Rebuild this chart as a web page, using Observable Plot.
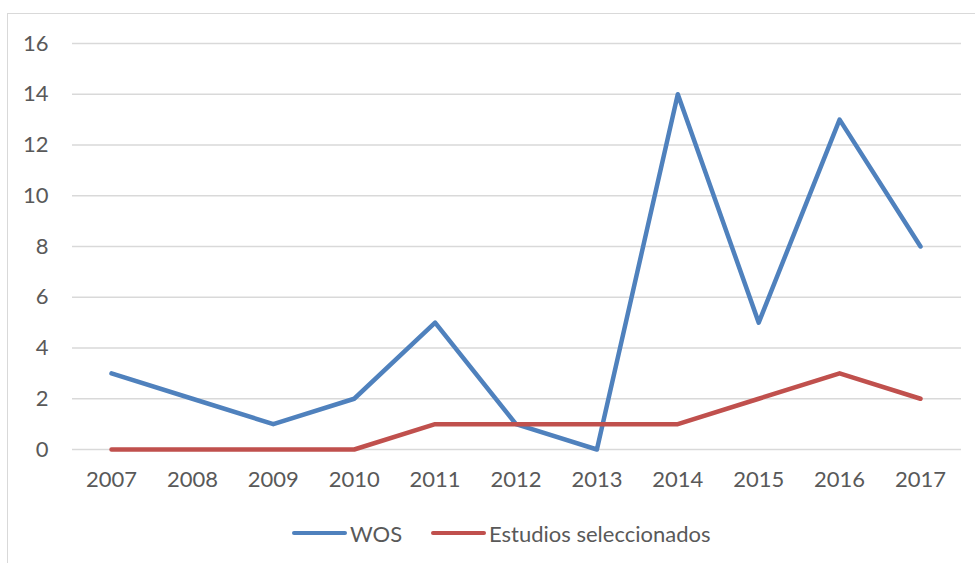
<!DOCTYPE html>
<html>
<head>
<meta charset="utf-8">
<script src="https://cdn.jsdelivr.net/npm/d3@7"></script>
<script src="https://cdn.jsdelivr.net/npm/@observablehq/plot@0.6"></script>
<style>
  html, body { margin: 0; padding: 0; background: #fff; }
  #wrap { position: relative; width: 975px; height: 563px; overflow: hidden; font-family: Lato, "Open Sans", sans-serif; }
  #frame { position: absolute; left: 7px; top: 13px; width: 1100px; height: 700px; border-left: 1.5px solid #d9d9d9; border-top: 1.5px solid #d9d9d9; box-sizing: border-box; pointer-events: none; }
  #legend { position: absolute; top: 519px; left: 0; width: 975px; height: 28px; font-size: 22px; color: #595959; }
  .item { position: absolute; top: 0; display: flex; align-items: center; height: 28px; }
  .swatch { width: 55px; height: 4.5px; border-radius: 2.25px; margin-right: 3px; }
</style>
</head>
<body>
<div id="wrap">
  <div id="chart"></div>
  <div id="frame"></div>
  <div id="legend"></div>
</div>
<script>
const years = ["2007","2008","2009","2010","2011","2012","2013","2014","2015","2016","2017"];
const wos = [3, 2, 1, 2, 5, 1, 0, 14, 5, 13, 8];
const estudios = [0, 0, 0, 0, 1, 1, 1, 1, 2, 3, 2];
const seriesNames = ["WOS", "Estudios seleccionados"];
const seriesColors = ["#4f81bd", "#c0504d"];
const yTicks = [0, 2, 4, 6, 8, 10, 12, 14, 16];

const rows = [];
years.forEach((y, i) => rows.push({year: y, value: wos[i], series: seriesNames[0]}));
years.forEach((y, i) => rows.push({year: y, value: estudios[i], series: seriesNames[1]}));

const chart = Plot.plot({
  width: 975,
  height: 563,
  marginLeft: 72,
  marginRight: 14,
  marginTop: 43,
  marginBottom: 114,
  style: {fontFamily: "Lato, 'Open Sans', sans-serif", fontSize: "22px", color: "#595959", background: "transparent"},
  x: {type: "point", domain: years, range: [111, 920], padding: 0, round: false, label: null, tickSize: 0, tickPadding: 22},
  y: {domain: [0, 16], ticks: yTicks, label: null, tickSize: 0, tickPadding: 24},
  color: {domain: seriesNames, range: seriesColors},
  marks: [
    Plot.gridY(yTicks, {stroke: "#d9d9d9", strokeOpacity: 1, strokeWidth: 1.5}),
    Plot.axisY({ticks: yTicks, tickSize: 0, tickPadding: 24, fill: "#595959", label: null}),
    Plot.axisX({tickSize: 0, tickPadding: 22, fill: "#595959", label: null}),
    Plot.line(rows, {x: "year", y: "value", z: "series", stroke: "series", strokeWidth: 4.5, strokeLinecap: "round", strokeLinejoin: "round"})
  ]
});
document.getElementById("chart").appendChild(chart);

const legend = document.getElementById("legend");
const lefts = [292, 431];
seriesNames.forEach((name, i) => {
  const item = document.createElement("div");
  item.className = "item";
  item.style.left = lefts[i] + "px";
  const sw = document.createElement("div");
  sw.className = "swatch";
  sw.style.background = seriesColors[i];
  const t = document.createElement("span");
  t.textContent = name;
  item.appendChild(sw);
  item.appendChild(t);
  legend.appendChild(item);
});
</script>
</body>
</html>
